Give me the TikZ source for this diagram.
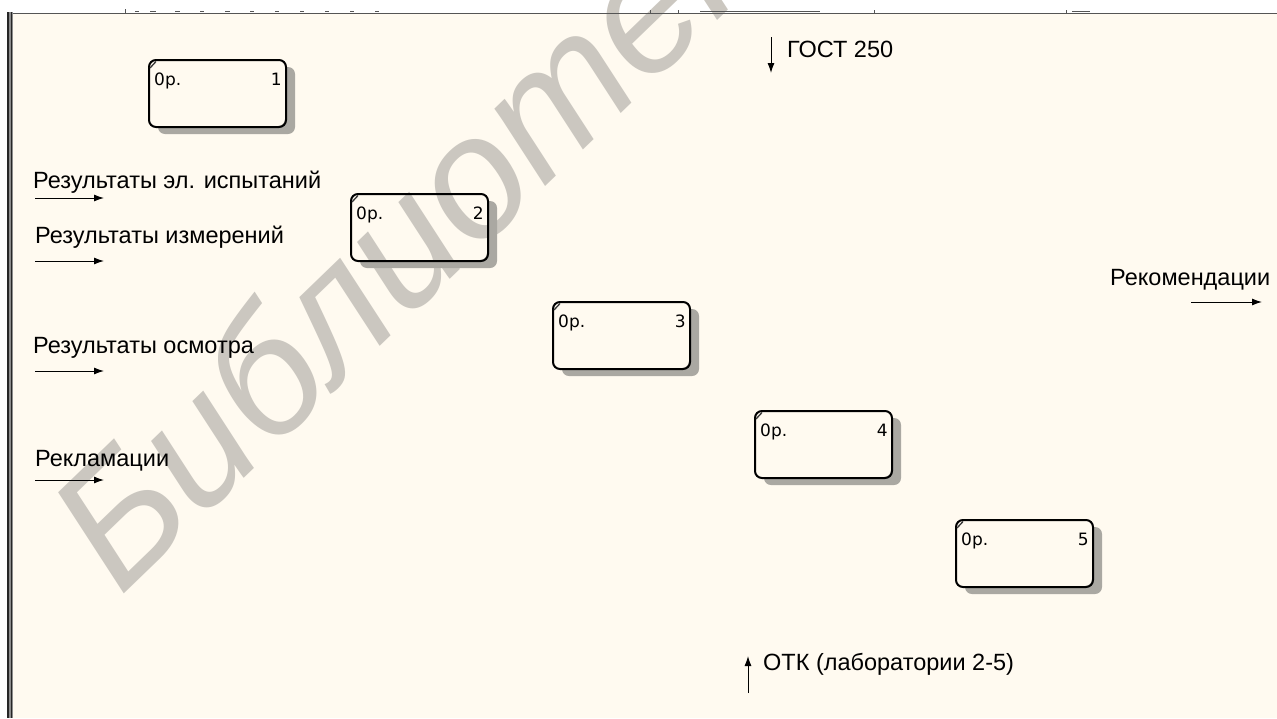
\documentclass[tikz,border=0pt]{standalone}
\usepackage{fontspec}
\setmainfont{Liberation Sans}
\newfontfamily\tagfont{DejaVu Sans}
\usetikzlibrary{arrows.meta,calc}
\definecolor{bg}{RGB}{255,250,240}
\definecolor{wmc}{RGB}{203,199,192}
\definecolor{shd}{RGB}{170,168,162}
\definecolor{framec}{RGB}{85,85,85}
\begin{document}
\begin{tikzpicture}[x=1pt,y=-1pt,
  lbl/.style={anchor=base west, inner sep=0pt, font=\fontsize{23.5}{26}\selectfont},
  flow/.style={-{Latex[length=10pt,width=7pt]}, line width=1pt},
  opbox/.style={draw, line width=2pt, rounded corners=7pt, minimum width=137pt,
                minimum height=67pt, inner sep=0pt, anchor=north west},
  tag/.style={font=\tagfont\fontsize{17}{18}\selectfont, inner sep=0pt},
  wmark/.style={text=wmc, inner sep=0pt, font=\fontsize{172}{172}\selectfont\itshape},
]
\useasboundingbox (0,0) rectangle (1277,718);
\fill[white] (0,0) rectangle (1277,718);
\fill[bg] (12,13) rectangle (1277,718);

% watermark
\node[wmark, rotate=44, anchor=base west] (wm) at (120,598) {Библиотека};

% frame
\fill[white] (0,0) rectangle (6,718);
\draw[framec, line width=1.5pt] (12,13.3) -- (1277,13.3);
\fill[black!45] (7,12) rectangle (12.5,718);
\draw[black!85, line width=1.6pt] (7.8,12) -- (7.8,718);
\draw[black!85, line width=1.2pt] (11.6,12) -- (11.6,718);
% cut-off text fragments along the top
\draw[framec, line width=1pt] (125,9) -- (125,13)
  (135,11)--(139,11) (150,11)--(156,11) (175,11)--(180,11) (200,11)--(204,11)
  (225,11)--(230,11) (250,11)--(254,11) (275,11)--(279,11) (300,11)--(304,11)
  (325,11)--(329,11) (350,11)--(354,11) (375,11)--(379,11)
  (650,10)--(650,13) (678,10)--(678,13) (700,11)--(820,11)
  (874,10)--(874,13) (1066,10)--(1066,13) (1072,11)--(1090,11);

% boxes
\foreach \n/\x/\y in {1/148/59, 2/350/193, 3/552/301, 4/754/410, 5/955/519}{
  \begin{scope}[even odd rule]
    \clip (0,0) rectangle (1277,718)
      [rounded corners=7pt] (\x,\y) rectangle ++(137,67);
    \fill[shd, rounded corners=7pt] (\x+10,\y+8) rectangle ++(137,67);
  \end{scope}
  \node[opbox] (b\n) at (\x,\y) {};
  \draw[line width=1.3pt, black!80] ($(b\n.north west)+(2,9)$) -- ($(b\n.north west)+(8,2.5)$);
  \node[tag, anchor=base west] (c\n) at ($(b\n.north west)+(6,26)$) {0р.};
  \node[tag, anchor=base east] (k\n) at ($(b\n.north east)+(-5,26)$) {\n};
}

% inputs
\node[lbl] (l1) at (33,188) {Результаты эл. испытаний};
\coordinate (s1) at (35,198); \coordinate (e1) at (104,198);
\draw[flow] (s1) -- (e1);
\node[lbl] (l2) at (35,243) {Результаты измерений};
\coordinate (s2) at (35,261); \coordinate (e2) at (104,261);
\draw[flow] (s2) -- (e2);
\node[lbl] (l3) at (33,353) {Результаты осмотра};
\coordinate (s3) at (35,371); \coordinate (e3) at (104,371);
\draw[flow] (s3) -- (e3);
\node[lbl] (l4) at (35,466) {Рекламации};
\coordinate (s4) at (35,480); \coordinate (e4) at (104,480);
\draw[flow] (s4) -- (e4);

% output
\node[lbl] (l5) at (1110,285) {Рекомендации};
\coordinate (s5) at (1191,302); \coordinate (e5) at (1262,302);
\draw[flow] (s5) -- (e5);

% control
\node[lbl] (l6) at (787,57) {ГОСТ 250};
\coordinate (s6) at (771,37); \coordinate (e6) at (771,73);
\draw[flow] (s6) -- (e6);

% mechanism
\node[lbl] (l7) at (763,670) {ОТК (лаборатории 2-5)};
\coordinate (s7) at (748,693); \coordinate (e7) at (748,656);
\draw[flow] (s7) -- (e7);
\end{tikzpicture}
\end{document}
